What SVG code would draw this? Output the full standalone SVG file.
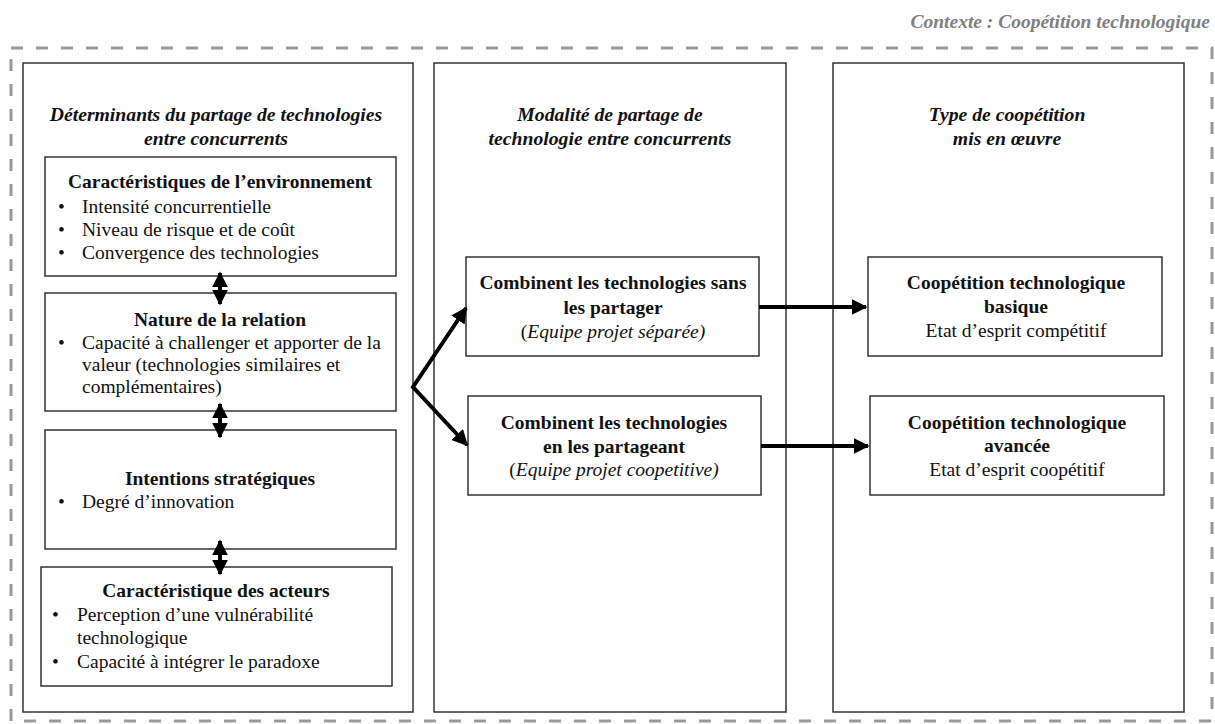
<svg xmlns="http://www.w3.org/2000/svg" width="1215" height="724" viewBox="0 0 1215 724">
<defs>
<style>
text{font-family:"Liberation Serif","Times New Roman",serif;fill:#111;}
.ctx{font-size:19.5px;font-weight:bold;font-style:italic;fill:#808080;}
.coltitle{font-size:19.7px;font-weight:bold;font-style:italic;text-anchor:middle;}
.h{font-size:19.5px;font-weight:bold;text-anchor:middle;}
.t{font-size:19.5px;}
.tc{font-size:19.5px;text-anchor:middle;}
.col{fill:#fff;stroke:#333;stroke-width:1.5;}
.box{fill:#fff;stroke:#333;stroke-width:1.5;}
.conn{stroke:#000;stroke-width:4;fill:none;}
</style>
<marker id="ah" viewBox="0 0 10 10" refX="9" refY="5" markerWidth="4" markerHeight="4" orient="auto-start-reverse" markerUnits="strokeWidth">
<path d="M0,0 L10,5 L0,10 z" fill="#000"/>
</marker>
</defs>
<rect x="0" y="0" width="1215" height="724" fill="#fff"/>
<text class="ctx" x="1210" y="28" text-anchor="end">Contexte : Coopétition technologique</text>
<rect id="context" x="11" y="48" width="1201" height="673" fill="none" stroke="#999" stroke-width="3" stroke-dasharray="12 13"/>

<g id="col1">
<rect class="col" x="23" y="63" width="390" height="649" stroke="#000"/>
<text class="coltitle" x="216" y="121">Déterminants du partage de technologies</text>
<text class="coltitle" x="216" y="145">entre concurrents</text>
</g>
<g id="col2">
<rect class="col" x="434" y="63" width="352" height="649"/>
<text class="coltitle" x="610" y="121">Modalité de partage de</text>
<text class="coltitle" x="610" y="145">technologie entre concurrents</text>
</g>
<g id="col3">
<rect class="col" x="833" y="63" width="351" height="649"/>
<text class="coltitle" x="1007" y="121">Type de coopétition</text>
<text class="coltitle" x="1007" y="145">mis en œuvre</text>
</g>

<g id="env">
<rect class="box" x="45" y="157" width="351" height="119"/>
<text class="h" x="220" y="188">Caractéristiques de l’environnement</text>
<text class="t" x="58" y="213">•</text><text class="t" x="82" y="213">Intensité concurrentielle</text>
<text class="t" x="58" y="236">•</text><text class="t" x="82" y="236">Niveau de risque et de coût</text>
<text class="t" x="58" y="259">•</text><text class="t" x="82" y="259">Convergence des technologies</text>
</g>
<g id="relation">
<rect class="box" x="45" y="293" width="351" height="118"/>
<text class="h" x="220" y="326">Nature de la relation</text>
<text class="t" x="58" y="349">•</text><text class="t" x="82" y="349">Capacité à challenger et apporter de la</text>
<text class="t" x="82" y="371">valeur (technologies similaires et</text>
<text class="t" x="82" y="393">complémentaires)</text>
</g>
<g id="intentions">
<rect class="box" x="45" y="430" width="351" height="119"/>
<text class="h" x="220" y="485">Intentions stratégiques</text>
<text class="t" x="58" y="508">•</text><text class="t" x="82" y="508">Degré d’innovation</text>
</g>
<g id="acteurs">
<rect class="box" x="41" y="567" width="351" height="119"/>
<text class="h" x="216" y="597">Caractéristique des acteurs</text>
<text class="t" x="52" y="621">•</text><text class="t" x="77" y="621">Perception d’une vulnérabilité</text>
<text class="t" x="77" y="644">technologique</text>
<text class="t" x="52" y="668">•</text><text class="t" x="77" y="668">Capacité à intégrer le paradoxe</text>
</g>

<g id="sans">
<rect class="box" x="466" y="257" width="293" height="99"/>
<text class="h" x="613" y="289">Combinent les technologies sans</text>
<text class="h" x="613" y="314">les partager</text>
<text class="tc" x="613" y="338">(<tspan font-style="italic">Equipe projet séparée)</tspan></text>
</g>
<g id="en">
<rect class="box" x="468" y="396" width="293" height="99"/>
<text class="h" x="614" y="429">Combinent les technologies</text>
<text class="h" x="614" y="453">en les partageant</text>
<text class="tc" x="614" y="476">(<tspan font-style="italic">Equipe projet coopetitive)</tspan></text>
</g>
<g id="basique">
<rect class="box" x="868" y="257" width="294" height="99"/>
<text class="h" x="1016" y="289">Coopétition technologique</text>
<text class="h" x="1016" y="313">basique</text>
<text class="tc" x="1016" y="337">Etat d’esprit compétitif</text>
</g>
<g id="avancee">
<rect class="box" x="870" y="396" width="294" height="99"/>
<text class="h" x="1017" y="429">Coopétition technologique</text>
<text class="h" x="1017" y="452">avancée</text>
<text class="tc" x="1017" y="476">Etat d’esprit coopétitif</text>
</g>

<g id="connectors">
<line class="conn" x1="220" y1="273" x2="220" y2="304" marker-start="url(#ah)" marker-end="url(#ah)"/>
<line class="conn" x1="220" y1="404" x2="220" y2="437" marker-start="url(#ah)" marker-end="url(#ah)"/>
<line class="conn" x1="220" y1="541" x2="220" y2="574" marker-start="url(#ah)" marker-end="url(#ah)"/>
<polyline class="conn" points="466,308 413,387 467,445" stroke-linejoin="miter" marker-start="url(#ah)" marker-end="url(#ah)"/>
<line class="conn" x1="759" y1="307" x2="866" y2="307" marker-end="url(#ah)"/>
<line class="conn" x1="761" y1="446" x2="868" y2="446" marker-end="url(#ah)"/>
</g>
</svg>
